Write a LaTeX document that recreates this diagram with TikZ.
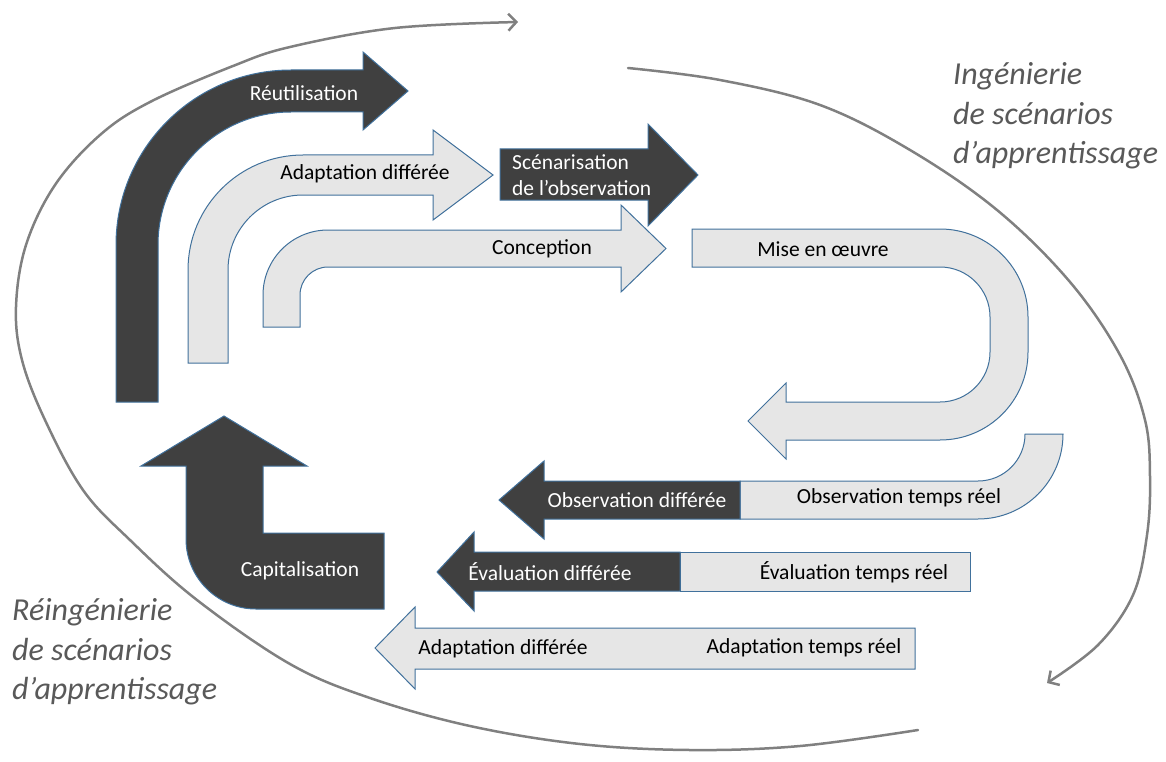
\documentclass[tikz,border=0pt]{standalone}
\usepackage{fontspec}
\setmainfont{Carlito}
\usetikzlibrary{arrows.meta}
\definecolor{darkfill}{RGB}{64,64,64}
\definecolor{lightfill}{RGB}{230,230,230}
\definecolor{edgeblue}{RGB}{65,113,156}
\definecolor{arcgray}{RGB}{128,128,128}
\definecolor{labelgray}{RGB}{89,89,89}
\begin{document}
\begin{tikzpicture}[x=1pt,y=-1pt,
  darkshape/.style={fill=darkfill, draw=edgeblue, line width=1pt},
  lightshape/.style={fill=lightfill, draw=edgeblue, line width=1pt},
  darklabel/.style={text=white, font=\fontsize{21.5}{26}\selectfont, inner sep=0pt},
  lightlabel/.style={text=black, font=\fontsize{21.5}{26}\selectfont, inner sep=0pt},
  sidelabel/.style={text=labelgray, font=\fontsize{32}{39.5}\selectfont\itshape, align=left, anchor=west, inner sep=0pt},
  cyclearc/.style={draw=arcgray, line width=2.5pt, line cap=round, -{Straight Barb[length=8pt,width=17pt]}}]
\useasboundingbox (0,0) rectangle (1166,762);

% big cycle arcs
\draw[cyclearc] plot[smooth, tension=0.6] coordinates {
  (918,730) (800,746) (690,750) (580,744) (470,726) (370,698) (290,664)
  (197,600) (130,540) (83,490) (45,420) (22,360) (16,307) (26,245)
  (55,185) (100,135) (150,102) (233,66) (290,47) (395,28) (518,22)};
\draw[cyclearc] plot[smooth, tension=0.6] coordinates {
  (628,68) (720,80) (820,105) (910,150) (997,210) (1070,282) (1120,355)
  (1145,420) (1150,477) (1147,535) (1133,595) (1098,645) (1047,683)};

% Reutilisation
\draw[darkshape] (116,402) -- (116,245) arc[start angle=180,end angle=270,radius=175]
  -- (363,70) -- (363,52) -- (408,91) -- (363,130) -- (363,112) -- (291,112)
  arc[start angle=270,end angle=180,radius=133] -- (158,402) -- cycle;
\node[darklabel] (reut) at (304,93) {Réutilisation};

% Adaptation differee (upper)
\draw[lightshape] (188,363) -- (188,270) arc[start angle=180,end angle=270,radius=115]
  -- (433,155) -- (433,130) -- (493,175) -- (433,220) -- (433,195) -- (303,195)
  arc[start angle=270,end angle=180,radius=75] -- (228,363) -- cycle;
\node[lightlabel] (adapt1) at (365,174) {Adaptation différée};

% Conception
\draw[lightshape] (263,327) -- (263,295) arc[start angle=180,end angle=270,radius=65]
  -- (621,230) -- (621,205) -- (666,248.5) -- (621,292) -- (621,267) -- (328,267)
  arc[start angle=270,end angle=180,radius=28] -- (300,327) -- cycle;
\node[lightlabel] (concep) at (542,249) {Conception};

% Scenarisation de l'observation
\draw[darkshape] (500,149) -- (648,149) -- (648,124) -- (698,175) -- (648,226)
  -- (648,200) -- (500,200) -- cycle;
\node[darklabel, align=left, anchor=west] (scen) at (512,175) {Scénarisation\\de l’observation};

% Mise en oeuvre
\draw[lightshape] (692,229) -- (940,229) arc[start angle=270,end angle=360,radius=88]
  -- (1028,352) arc[start angle=0,end angle=90,radius=88]
  -- (786,440) -- (786,459) -- (748,421) -- (786,383) -- (786,402) -- (940,402)
  arc[start angle=90,end angle=0,radius=50] -- (990,317)
  arc[start angle=0,end angle=-90,radius=50] -- (692,267) -- cycle;
\node[lightlabel] (mise) at (823,249) {Mise en œuvre};

% Observation
\draw[lightshape] (740,481) -- (978,481) arc[start angle=90,end angle=0,radius=47]
  -- (1063,434) arc[start angle=0,end angle=90,radius=85] -- (740,519) -- cycle;
\draw[darkshape] (499,500) -- (544,461) -- (544,481) -- (740,481) -- (740,519)
  -- (544,519) -- (544,539) -- cycle;
\node[darklabel] (obsd) at (637,500) {Observation différée};
\node[lightlabel] (obst) at (899,498) {Observation temps réel};

% Evaluation
\draw[lightshape] (680,552) rectangle (970,591);
\draw[darkshape] (437,572) -- (474,532) -- (474,552) -- (680,552) -- (680,591)
  -- (474,591) -- (474,611) -- cycle;
\node[darklabel] (evald) at (550,572) {Évaluation différée};
\node[lightlabel] (evalt) at (854,572) {Évaluation temps réel};

% Adaptation (bottom)
\draw[lightshape] (375,648) -- (415,607) -- (415,628) -- (915,628) -- (915,669)
  -- (415,669) -- (415,689) -- cycle;
\node[lightlabel] (adaptd) at (503,649) {Adaptation différée};
\node[lightlabel] (adaptt) at (804,648) {Adaptation temps réel};

% Capitalisation
\draw[darkshape] (224,416) -- (307,466) -- (263,466) -- (263,533) -- (384,533)
  -- (384,609) -- (256,609) arc[start angle=90,end angle=180,radius=70]
  -- (186,466) -- (141,466) -- cycle;
\node[darklabel] (capi) at (300,571) {Capitalisation};

% side labels
\node[sidelabel] (inge) at (953,116) {Ingénierie\\de scénarios\\d’apprentissage};
\node[sidelabel] (reinge) at (12,652) {Réingénierie\\de scénarios\\d’apprentissage};
\end{tikzpicture}
\end{document}
